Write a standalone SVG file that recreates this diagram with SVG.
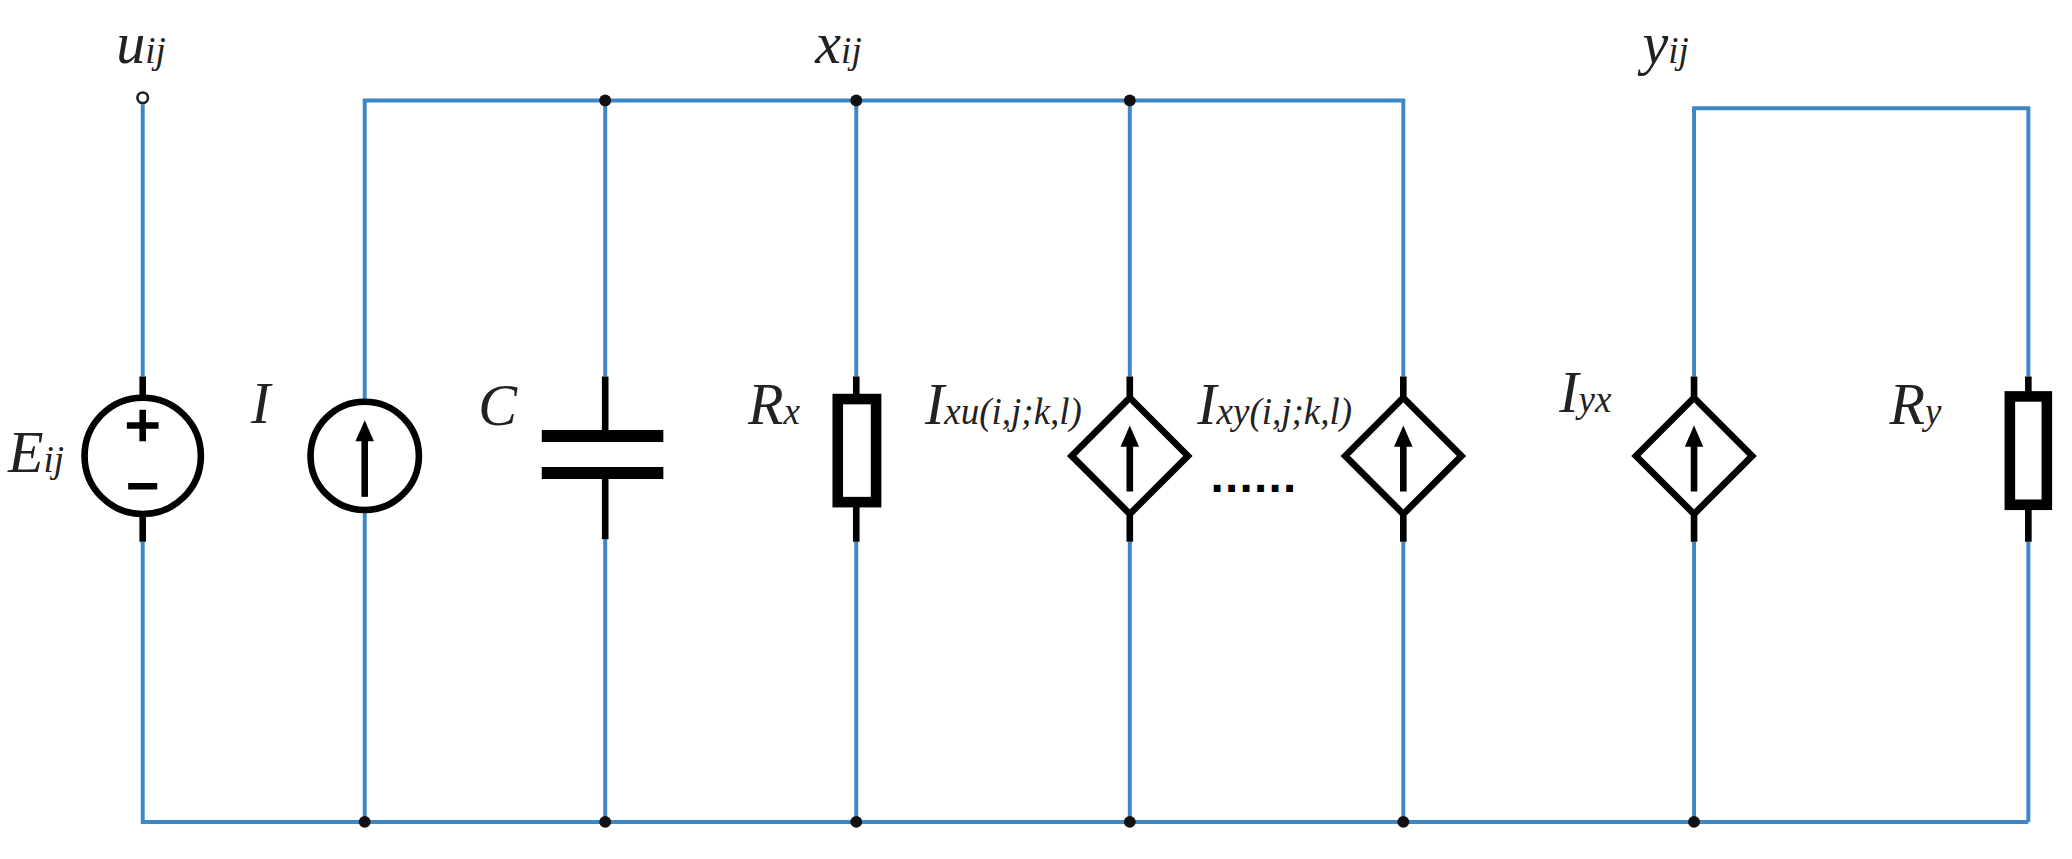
<svg xmlns="http://www.w3.org/2000/svg" width="2072" height="859" viewBox="0 0 2072 859">
<style>
.w{stroke:#3d88c4;stroke-width:3;fill:none}
.k{stroke:#000;stroke-width:5;fill:none}
.kt{stroke:#000;stroke-width:9;fill:none}
.t{font-family:"Liberation Serif",serif;font-style:italic;font-size:44px;fill:#222}
.s{font-size:28px}
</style>
<defs><path id="ah" d="M-7,12 L0,-4 L7,12 Z" fill="#000"/></defs>
<rect width="2072" height="859" fill="#fff"/>
<g transform="scale(1.3214)">
<g id="wires">
<path class="w" d="M108,79 V285 M108,410 V622 H1535 M276,304 V76 H1062 V285 M458,76 V285 M648,76 V285 M855,76 V285 M276,386 V622 M458,408 V622 M648,410 V622 M855,410 V622 M1062,410 V622 M1282,410 V622 M1282,285 V82 H1535 V285 M1535,410 V622"/>
<circle cx="108" cy="74" r="4" fill="#fff" stroke="#222" stroke-width="2"/>
<g fill="#111"><circle cx="458" cy="76" r="4.5"/><circle cx="648" cy="76" r="4.5"/><circle cx="855" cy="76" r="4.5"/>
<circle cx="276" cy="622" r="4.5"/><circle cx="458" cy="622" r="4.5"/><circle cx="648" cy="622" r="4.5"/><circle cx="855" cy="622" r="4.5"/><circle cx="1062" cy="622" r="4.5"/><circle cx="1282" cy="622" r="4.5"/></g>
</g>
<g id="E"><path class="k" d="M108,285 V301 M108,389 V410 M96,322 H120 M108,310 V334 M97,368 H119"/><circle class="k" cx="108" cy="345" r="44"/></g>
<g id="I"><circle class="k" cx="276" cy="345" r="41"/><path class="k" d="M276,376 V330"/><use href="#ah" x="276" y="322"/></g>
<g id="C"><path class="k" d="M458,285 V330 M458,358 V408"/><path class="kt" d="M410,330 H502 M410,358 H502"/></g>
<g id="Rx"><path class="k" d="M648,285 V304 M648,380 V410"/><rect x="634" y="302" width="29" height="78" stroke="#000" stroke-width="8" fill="none"/></g>
<g id="D1"><path class="k" d="M855,285 V301 M855,389 V410 M855,301 L899,345 L855,389 L811,345 Z M855,372 V334"/><use href="#ah" x="855" y="326"/></g>
<g id="D2"><path class="k" d="M1062,285 V301 M1062,389 V410 M1062,301 L1106,345 L1062,389 L1018,345 Z M1062,372 V334"/><use href="#ah" x="1062" y="326"/></g>
<g id="D3"><path class="k" d="M1282,285 V301 M1282,389 V410 M1282,301 L1326,345 L1282,389 L1238,345 Z M1282,372 V334"/><use href="#ah" x="1282" y="326"/></g>
<g id="Ry"><path class="k" d="M1535,285 V300 M1535,382 V410"/><rect x="1521" y="300" width="28" height="82" stroke="#000" stroke-width="8" fill="none"/></g>
<g id="labels">
<text class="t" x="88" y="48">u<tspan class="s">ij</tspan></text>
<text class="t" x="617" y="48">x<tspan class="s">ij</tspan></text>
<text class="t" x="1243" y="48">y<tspan class="s">ij</tspan></text>
<text class="t" x="6" y="357">E<tspan class="s">ij</tspan></text>
<text class="t" x="190" y="320">I</text>
<text class="t" x="362" y="322">C</text>
<text class="t" x="566" y="321">R<tspan class="s">x</tspan></text>
<text class="t" x="700" y="321">I<tspan class="s">xu(i,j;k,l)</tspan></text>
<text class="t" x="906" y="321">I<tspan class="s">xy(i,j;k,l)</tspan></text>
<text class="t" x="1180" y="312">I<tspan class="s">yx</tspan></text>
<text class="t" x="1430" y="321">R<tspan class="s">y</tspan></text>
<text x="916" y="372" style="font-family:'Liberation Sans',sans-serif;font-size:36px;font-weight:bold;fill:#000;letter-spacing:1px">......</text>
</g>
</g>
</svg>
